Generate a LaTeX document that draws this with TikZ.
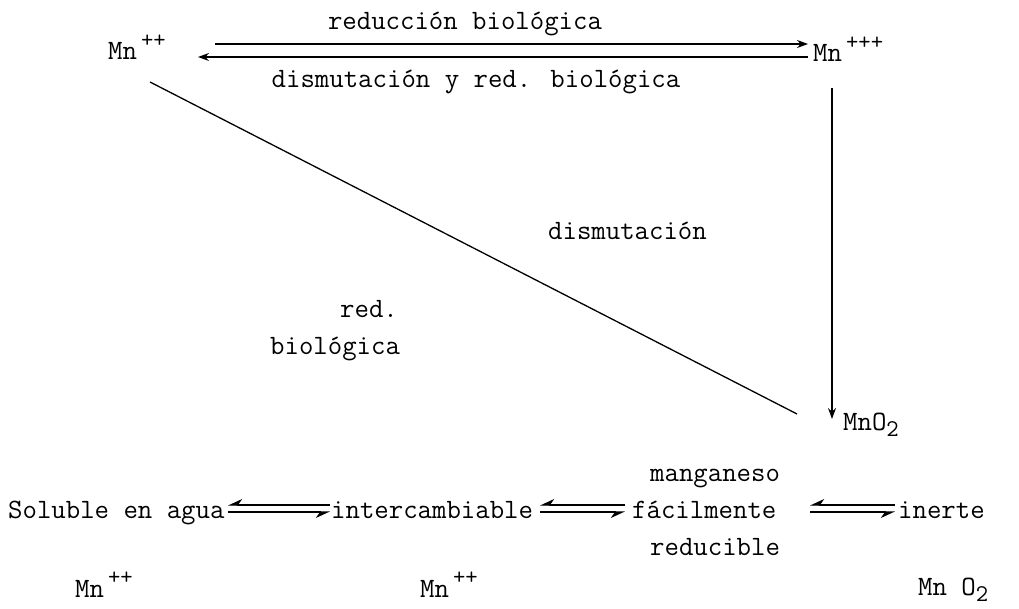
\documentclass[tikz,border=0pt]{standalone}
\usetikzlibrary{arrows.meta}
\begin{document}
\begin{tikzpicture}[x=1pt,y=-1pt,
  txt/.style={font=\fontsize{28}{31}\selectfont\ttfamily, inner sep=0pt},
  ln/.style={line width=1.3pt},
  harp/.style={line width=1.1pt, -{Stealth[harpoon,swap,length=13pt,width=12pt]}},
  arr/.style={line width=1.2pt, -{Stealth[length=11pt,width=8pt]}}]
\useasboundingbox (0,0) rectangle (1019,609);
\newcommand{\sups}[1]{\raisebox{1.05ex}{\fontsize{24}{26}\selectfont\,#1}}
\newcommand{\subs}[1]{\raisebox{-0.55ex}{\fontsize{24}{26}\selectfont #1}}
% top triangle
\node[txt, anchor=base west] (mnA) at (108,60) {Mn\sups{++}};
\node[txt, anchor=base west] (mnB) at (813,62) {Mn\sups{+++}};
\node[txt, anchor=base west] (mnO) at (843,430) {MnO\subs{2}};
\coordinate (t1) at (215,44);
\coordinate (t2) at (808,44);
\coordinate (b1) at (808,57);
\coordinate (b2) at (198,57);
\draw[arr] (t1) -- (t2);
\draw[arr] (b1) -- (b2);
\node[txt, anchor=base] (lt) at (465,30) {reducción biológica};
\node[txt, anchor=base] (lb) at (476,88) {dismutación y red. biológica};
\coordinate (v1) at (832,88);
\coordinate (v2) at (832,419);
\draw[arr] (v1) -- (v2);
\coordinate (d1) at (150,82);
\coordinate (d2) at (797,414);
\draw[ln] (d1) -- (d2);
\node[txt, anchor=base west] (ld) at (548,240) {dismutación};
\node[txt, anchor=base west] (lr1) at (340,318) {red.};
\node[txt, anchor=base west] (lr2) at (270,354) {biológica};
% bottom row
\node[txt, anchor=base west] (s1) at (8,518) {Soluble en agua};
\node[txt, anchor=base west] (s2) at (331,518) {intercambiable};
\node[txt, anchor=base west] (s3a) at (650,481) {manganeso};
\node[txt, anchor=base west] (s3) at (632,518) {fácilmente};
\node[txt, anchor=base west] (s3b) at (650,555) {reducible};
\node[txt, anchor=base west] (s4) at (898,518) {inerte};
\node[txt, anchor=base west] (m1) at (75,597) {Mn\sups{++}};
\node[txt, anchor=base west] (m2) at (420,597) {Mn\sups{++}};
\node[txt, anchor=base west] (m3) at (918,595) {Mn O\subs{2}};
\foreach \a/\b [count=\i] in {228/330, 540/625, 810/895}{
  \coordinate (hl\i) at (\b,505);
  \coordinate (hr\i) at (\a,505);
  \coordinate (gl\i) at (\a,512);
  \coordinate (gr\i) at (\b,512);
  \draw[harp] (hl\i) -- (hr\i);
  \draw[harp] (gl\i) -- (gr\i);
}
\end{tikzpicture}
\end{document}
